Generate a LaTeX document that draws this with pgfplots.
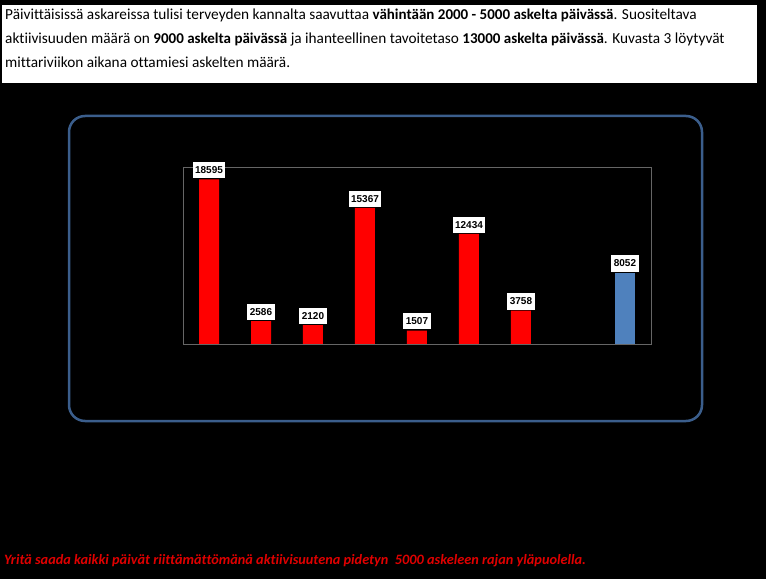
\documentclass[border=0pt]{standalone}
\usepackage{pgfplots}
\pgfplotsset{compat=1.18}
\usepackage{fontspec}
\setmainfont{Carlito}[Ligatures={NoCommon}]
\newfontfamily\arialfont{Liberation Sans}
\definecolor{barred}{HTML}{FF0000}
\definecolor{barblue}{HTML}{4F81BD}
\definecolor{frameblue}{HTML}{3B5E8C}
\definecolor{txtred}{HTML}{E00000}
\newcommand\B[1]{{\fontsize{15}{24}\selectfont\bfseries #1}}
\begin{document}
\begin{tikzpicture}[x=1pt,y=1pt]
\fill[black] (0,0) rectangle (766,579);
\useasboundingbox (0,0) rectangle (766,579);
\fill[white] (2,574) rectangle (757,496);
\node[anchor=north west, inner sep=0pt, align=left, font=\fontsize{15.3}{24}\selectfont] at (5,570.5) {Päivittäisissä askareissa tulisi terveyden kannalta saavuttaa \B{vähintään 2000 - 5000 askelta päivässä}. Suositeltava\\ aktiivisuuden määrä on \B{9000 askelta päivässä} ja ihanteellinen tavoitetaso \B{13000 askelta päivässä}. Kuvasta 3 löytyvät\\ mittariviikon aikana ottamiesi askelten määrä.};
\draw[frameblue, line width=2.5pt, rounded corners=16pt] (69,463) rectangle (702,158);
\begin{axis}[at={(183pt,235pt)}, anchor=south west, scale only axis, width=468pt, height=177pt,
  xmin=0.5, xmax=9.5, ymin=0, ymax=20000,
  axis line style={draw=black!60, line width=0.8pt},
  xtick=\empty, ytick=\empty,
  ybar, bar width=20pt,
  nodes near coords={\pgfmathprintnumber[fixed, precision=0, 1000 sep={}, assume math mode=true]{\pgfplotspointmeta}},
  every node near coord/.append style={fill=white, text=black, font=\arialfont\bfseries\fontsize{10}{12}\selectfont, inner xsep=2.5pt, inner ysep=4.5pt, yshift=1pt}]
\addplot[fill=barred, draw=none, bar shift=0pt] coordinates {(1,18595) (2,2586) (3,2120) (4,15367) (5,1507) (6,12434) (7,3758)};
\addplot[fill=barblue, draw=none, bar shift=0pt] coordinates {(9,8052)};
\end{axis}
\node[anchor=base west, inner sep=0pt, text=txtred, font=\fontsize{14.3}{16}\selectfont\bfseries\itshape] at (4,15) {Yritä saada kaikki päivät riittämättömänä aktiivisuutena pidetyn\ \ 5000 askeleen rajan yläpuolella.};
\end{tikzpicture}
\end{document}
